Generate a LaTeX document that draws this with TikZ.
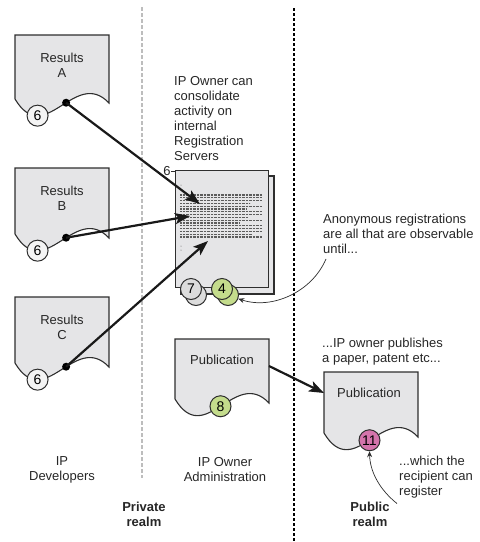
\documentclass[tikz,border=0pt]{standalone}
\usepackage{fontspec}
\setmainfont{Liberation Sans}
\usetikzlibrary{arrows.meta}

\definecolor{docgray}{HTML}{E5E5E7}
\definecolor{edgeink}{HTML}{2E2E2E}
\definecolor{leaf}{HTML}{C4DC8C}
\definecolor{rose}{HTML}{D474AC}
\definecolor{sepgray}{HTML}{BDBDBD}
\definecolor{rowink}{HTML}{5C5C5C}
\definecolor{chip}{HTML}{F4F4F4}

\tikzset{
  lbl/.style={font=\fontsize{13}{15}\selectfont, inner sep=0pt, text=black!85},
  boldlbl/.style={lbl, font=\fontsize{13}{15}\selectfont\bfseries},
  docshape/.style={draw=edgeink, fill=docgray, line width=1.1pt},
  num/.style={circle, draw=edgeink, line width=1pt, minimum size=21pt,
    inner sep=0pt, font=\fontsize{14}{14}\selectfont, fill=chip},
  dotmark/.style={circle, fill=black, minimum size=8pt, inner sep=0pt},
  flow/.style={line width=2.2pt, black!90,
    -{Stealth[length=15pt,width=11pt,inset=3.5pt]}},
  notearrow/.style={line width=0.7pt, edgeink,
    -{Stealth[length=6pt,width=5pt,inset=2pt]}},
  textrow/.style={rowink, line width=1.1pt, dash pattern=on 1pt off 0.4pt},
}

% document sheet with a wavy lower edge: name, left x, top y, height
\newcommand{\sheetdoc}[4]{%
  \draw[docshape] (#2,#3+#4) .. controls (#2+30,#3+#4+50) and (#2+60,#3+#4-32) .. (#2+94,#3+#4+4)
     coordinate[pos=0.25] (#1-low) coordinate[pos=0.5] (#1-mid) coordinate[pos=0.56] (#1-dot)
     -- (#2+94,#3) -- (#2,#3) -- cycle;
}

\begin{document}
\begin{tikzpicture}[x=1pt,y=-1pt]
\useasboundingbox (0,0) rectangle (480,542);

% realm dividers
\draw[sepgray, line width=1.6pt, dash pattern=on 4pt off 2pt] (142,7) -- (142,478);
\draw[black, line width=1.8pt, dash pattern=on 3pt off 2pt] (294,8) -- (294,542);

% result sheets of the developers
\sheetdoc{resA}{15}{35}{64}
\sheetdoc{resB}{15}{168}{66}
\sheetdoc{resC}{15}{297}{66}
\node[lbl, align=center] (resA-t) at (62,65) {Results\\A};
\node[lbl, align=center] (resB-t) at (62,198) {Results\\B};
\node[lbl, align=center] (resC-t) at (62,327) {Results\\C};
\node[num] (resA-n) at (resA-low) {6};
\node[num] (resB-n) at (resB-low) {6};
\node[num] (resC-n) at (resC-low) {6};
\node[dotmark] (resA-d) at (resA-dot) {};
\node[dotmark] (resB-d) at (resB-dot) {};
\node[dotmark] (resC-d) at (resC-dot) {};

% registration server pages
\node[lbl, anchor=north west, align=left] (srvnote) at (174,76)
  {IP Owner can\\consolidate\\activity on\\internal\\Registration\\Servers};
\draw[docshape] (181,176) rectangle (274,294);
\node[docshape, anchor=north west, minimum width=93pt, minimum height=117pt,
  inner sep=0pt] (srv) at (175,170) {};
\foreach \i/\e in {0/262,1/262,2/262,3/250,4/262,5/246,6/262,7/262,
                   8/248,9/262,10/240,11/262,12/262,13/262,14/252,15/262}
  \draw[textrow] (180,195+\i*2.8) -- (\e,195+\i*2.8);
\fill[rowink] (181,185) circle (0.5pt) (181,246) circle (0.5pt) (181,250) circle (0.5pt);
\node[lbl] (six) at (167,171) {6};
\draw[edgeink, line width=0.6pt] (six.east) -- (six.east -| srv.west);

\coordinate (srvA) at (200,204);
\coordinate (srvB) at (190,216);
\coordinate (srvC) at (208,241);

\node[num, fill=chip!90!black] (c7b) at (196,295) {};
\node[num, fill=chip!90!black] (c7) at (191,289) {7};
\node[num, fill=leaf] (c4b) at (228,295) {};
\node[num, fill=leaf] (c4) at (222,289) {4};

% flows into the servers
\draw[flow] (resA-d.center) -- (srvA);
\draw[flow] (resB-d.center) -- (srvB);
\draw[flow] (resC-d.center) -- (srvC);

% callout about anonymous registrations
\node[lbl, anchor=north west, align=left] (anon) at (323,214)
  {Anonymous registrations\\are all that are observable\\until...};
\coordinate (anon-foot) at ([xshift=3pt,yshift=-5pt]anon.south west);
\draw[notearrow] (anon-foot) .. controls (312,292) and (272,310) .. (c4b.-20);

% internal publication
\sheetdoc{pubM}{175}{339}{60}
\node[lbl] (pubM-t) at (222,360) {Publication};
\node[num, fill=leaf] (pubM-n) at (pubM-mid) {8};

% public publication
\node[lbl, anchor=north west, align=left] (publish) at (322,338)
  {...IP owner publishes\\a paper, patent etc...};
\sheetdoc{pubR}{324}{372}{61}
\node[lbl] (pubR-t) at (369,393) {Publication};
\node[num, fill=rose] (pubR-n) at (pubR-mid) {11};

\coordinate (pubM-out) at (269,366);
\coordinate (pubR-in) at (324,393);
\draw[flow] (pubM-out) -- (pubR-in);

\node[lbl, anchor=north west, align=left] (recip) at (399,456)
  {...which the\\recipient can\\register};
\coordinate (recip-foot) at ([xshift=-2pt,yshift=-5pt]recip.south west);
\draw[notearrow] (recip-foot) .. controls (380,490) and (370,472) .. (pubR-n.south);

% column and realm captions
\node[lbl, align=center] (dev) at (62,470) {IP\\Developers};
\node[lbl, align=center] (adm) at (225,470) {IP Owner\\Administration};
\node[boldlbl, align=center] (priv) at (144,514) {Private\\realm};
\node[boldlbl, align=center] (pub) at (370,514) {Public\\realm};
\end{tikzpicture}
\end{document}
